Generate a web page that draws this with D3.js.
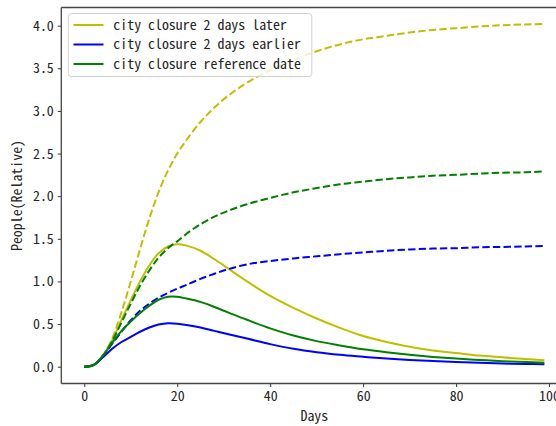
<!DOCTYPE html>
<html>
<head>
<meta charset="utf-8">
<script src="https://cdn.jsdelivr.net/npm/d3@7"></script>
<style>
html,body{margin:0;padding:0;background:#fff;}
svg text{font-family:"Noto Sans Mono CJK SC","Noto Sans CJK SC","DejaVu Sans Mono",monospace;}
</style>
</head>
<body>
<svg id="chart" width="556" height="426"></svg>
<script>
// ---- data ----
const days = [0,2,4,6,8,10,12,14,16,18,20,22,25,28,31,35,40,45,50,55,60,65,70,75,80,85,90,95,99];
const laterActive   = [0,0.02,0.13,0.31,0.55,0.78,1.00,1.19,1.33,1.41,1.435,1.42,1.36,1.26,1.15,1.00,0.83,0.69,0.565,0.455,0.36,0.29,0.235,0.19,0.16,0.13,0.11,0.09,0.075];
const laterTotal    = [0,0.02,0.13,0.33,0.64,1.00,1.38,1.74,2.05,2.30,2.50,2.66,2.87,3.04,3.18,3.33,3.48,3.60,3.70,3.78,3.84,3.88,3.92,3.95,3.97,3.99,4.005,4.015,4.02];
const earlierActive = [0,0.02,0.11,0.21,0.29,0.35,0.41,0.46,0.495,0.51,0.505,0.49,0.46,0.42,0.38,0.33,0.265,0.21,0.17,0.14,0.117,0.095,0.078,0.066,0.055,0.046,0.038,0.032,0.028];
const earlierTotal  = [0,0.02,0.12,0.27,0.41,0.545,0.655,0.74,0.81,0.865,0.915,0.96,1.03,1.09,1.145,1.20,1.24,1.27,1.295,1.32,1.34,1.36,1.375,1.385,1.39,1.40,1.405,1.41,1.415];
const refActive     = [0,0.02,0.13,0.28,0.42,0.53,0.63,0.715,0.785,0.82,0.82,0.80,0.76,0.70,0.635,0.55,0.45,0.365,0.30,0.25,0.205,0.17,0.14,0.115,0.095,0.08,0.065,0.055,0.047];
const refTotal      = [0,0.02,0.13,0.30,0.52,0.74,0.95,1.13,1.28,1.39,1.47,1.56,1.67,1.76,1.83,1.905,1.98,2.045,2.095,2.14,2.17,2.20,2.22,2.24,2.25,2.265,2.275,2.28,2.29];
const seriesNames = ["city closure 2 days later","city closure 2 days earlier","city closure reference date"];
const seriesColors = ["#bfbf00","#0000ff","#008000"];
const xTicks = [0,20,40,60,80,100];
const yTicks = [0.0,0.5,1.0,1.5,2.0,2.5,3.0,3.5,4.0];
const xLabel = "Days";
const yLabel = "People(Relative)";

// ---- layout ----
const svg = d3.select("#chart");
const pL = 61.3, pR = 567.4, pT = 7.5, pB = 383.5;
const x = d3.scaleLinear().domain([-4.95, 103.95]).range([pL, pR]);
const y = d3.scaleLinear().domain([-0.197, 4.213]).range([pB, pT]);

const groups = [
  {name: seriesNames[0], color: seriesColors[0], active: laterActive, total: laterTotal},
  {name: seriesNames[1], color: seriesColors[1], active: earlierActive, total: earlierTotal},
  {name: seriesNames[2], color: seriesColors[2], active: refActive, total: refTotal}
];

svg.append("clipPath").attr("id","clip").append("rect")
  .attr("x", pL).attr("y", pT).attr("width", pR-pL).attr("height", pB-pT);

const line = d3.line().x(d => x(d[0])).y(d => y(d[1])).curve(d3.curveCatmullRom.alpha(0.5));
const plot = svg.append("g").attr("clip-path","url(#clip)");
groups.forEach(g => {
  plot.append("path").datum(days.map((d,i)=>[d,g.active[i]]))
    .attr("d", line).attr("fill","none").attr("stroke", g.color).attr("stroke-width", 2);
  plot.append("path").datum(days.map((d,i)=>[d,g.total[i]]))
    .attr("d", line).attr("fill","none").attr("stroke", g.color).attr("stroke-width", 2)
    .attr("stroke-dasharray","7.4,3.2");
});

// axes
const fs = 13.9;
const xAxis = d3.axisBottom(x).tickValues(xTicks).tickFormat(d3.format("d")).tickSize(3.5).tickPadding(4);
const gx = svg.append("g").attr("transform",`translate(0,${pB})`).call(xAxis);
const yAxis = d3.axisLeft(y).tickValues(yTicks).tickFormat(d3.format(".1f")).tickSize(3.5).tickPadding(4);
const gy = svg.append("g").attr("transform",`translate(${pL},0)`).call(yAxis);
[gx, gy].forEach(g => {
  g.select(".domain").remove();
  g.selectAll(".tick line").attr("stroke","#333").attr("stroke-width",1);
  g.selectAll(".tick text").attr("fill","#222").style("font-size", fs+"px");
});
// spines
svg.append("line").attr("x1",pL).attr("x2",pL).attr("y1",pT).attr("y2",pB).attr("stroke","#444").attr("stroke-width",1.3);
svg.append("line").attr("x1",pL).attr("x2",pR).attr("y1",pB).attr("y2",pB).attr("stroke","#444").attr("stroke-width",1.3);
svg.append("line").attr("x1",pL).attr("x2",pR).attr("y1",pT).attr("y2",pT).attr("stroke","#444").attr("stroke-width",1.3);

svg.append("text").attr("x",(pL+pR)/2).attr("y",421).attr("text-anchor","middle")
  .style("font-size",fs+"px").attr("fill","#222").text(xLabel);
svg.append("text").attr("transform",`translate(22,${(pT+pB)/2}) rotate(-90)`).attr("text-anchor","middle")
  .style("font-size",fs+"px").attr("fill","#222").text(yLabel);

// legend
const lg = svg.append("g");
lg.append("rect").attr("x",68.3).attr("y",13.5).attr("width",243.5).attr("height",63)
  .attr("rx",3).attr("fill","#fff").attr("fill-opacity",0.8).attr("stroke","#d0d0d0").attr("stroke-width",1);
groups.forEach((g,i) => {
  const cy = 25 + i*19.5;
  lg.append("line").attr("x1",73.5).attr("x2",103.5).attr("y1",cy).attr("y2",cy)
    .attr("stroke",g.color).attr("stroke-width",2);
  lg.append("text").attr("x",113.3).attr("y",cy).attr("dy","0.35em")
    .style("font-size",fs+"px").attr("fill","#222").text(g.name);
});
</script>
</body>
</html>
